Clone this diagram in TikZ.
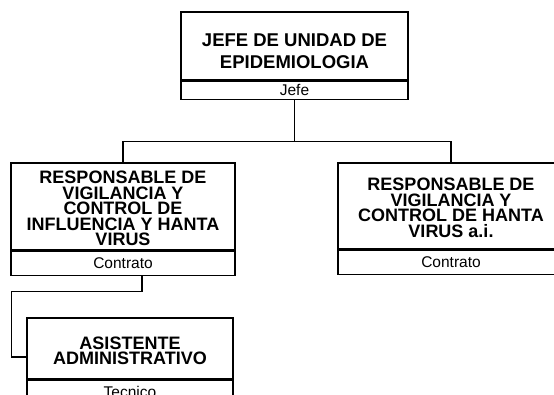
\documentclass[tikz,border=0pt]{standalone}
\usepackage{fontspec}
\setmainfont{Liberation Sans}
\usetikzlibrary{positioning}

\tikzset{
    caja/.style={draw, line width=1.2pt, inner sep=0pt},
    rotulo/.style={inner sep=0pt, align=center,
        font=\bfseries\fontsize{18}{15.5}\selectfont},
    tipo/.style={draw, line width=1.2pt, inner sep=0pt, align=center,
        font=\fontsize{15.5}{17}\selectfont},
}

\begin{document}
\begin{tikzpicture}[x=1pt,y=-1pt]
    \useasboundingbox (0,0) rectangle (554,394);

    % Jefe
    \node[caja, minimum width=227pt, minimum height=68pt] (jefe) at (294.5,46) {};
    \node[rotulo, font=\bfseries\fontsize{18.5}{22}\selectfont] (jefetxt)
        at ([yshift=-5pt]jefe.center) {JEFE DE UNIDAD DE\\EPIDEMIOLOGIA};
    \node[tipo, minimum width=227pt, minimum height=18pt,
        below=0pt of jefe] (jefetipo) {Jefe};

    % Responsables
    \node[caja, minimum width=224pt, minimum height=87pt] (resp1) at (123,206.5) {};
    \node[rotulo] (resp1txt) at ([yshift=-2pt]resp1.center)
        {RESPONSABLE DE\\VIGILANCIA Y\\CONTROL DE\\INFLUENCIA Y HANTA\\VIRUS};
    \node[tipo, minimum width=224pt, minimum height=24pt,
        below=0pt of resp1] (resp1tipo) {Contrato};

    \node[caja, minimum width=226pt, minimum height=86pt] (resp2) at (451,206) {};
    \node[rotulo] (resp2txt) at ([yshift=-2pt]resp2.center)
        {RESPONSABLE DE\\VIGILANCIA Y\\CONTROL DE HANTA\\VIRUS a.i.};
    \node[tipo, minimum width=226pt, minimum height=24pt,
        below=0pt of resp2] (resp2tipo) {Contrato};

    % Asistente
    \node[caja, minimum width=206pt, minimum height=61pt] (asist) at (130,348.5) {};
    \node[rotulo] (asisttxt) at ([yshift=-2.5pt]asist.center)
        {ASISTENTE\\ADMINISTRATIVO};
    \node[tipo, minimum width=206pt, minimum height=24pt,
        below=0pt of asist] (asisttipo) {Tecnico};

    % Lineas
    \draw[line width=1.2pt] (jefetipo.south) -- ++(0,42) coordinate (barra);
    \draw[line width=1.2pt] (resp1.north) |- (barra) -| (resp2.north);
    \draw[line width=1.2pt] ([xshift=19pt]resp1tipo.south) -- ++(0,16)
        -| ([xshift=-15pt,yshift=-8.5pt]asist.west) -- ([yshift=-8.5pt]asist.west);
\end{tikzpicture}
\end{document}
